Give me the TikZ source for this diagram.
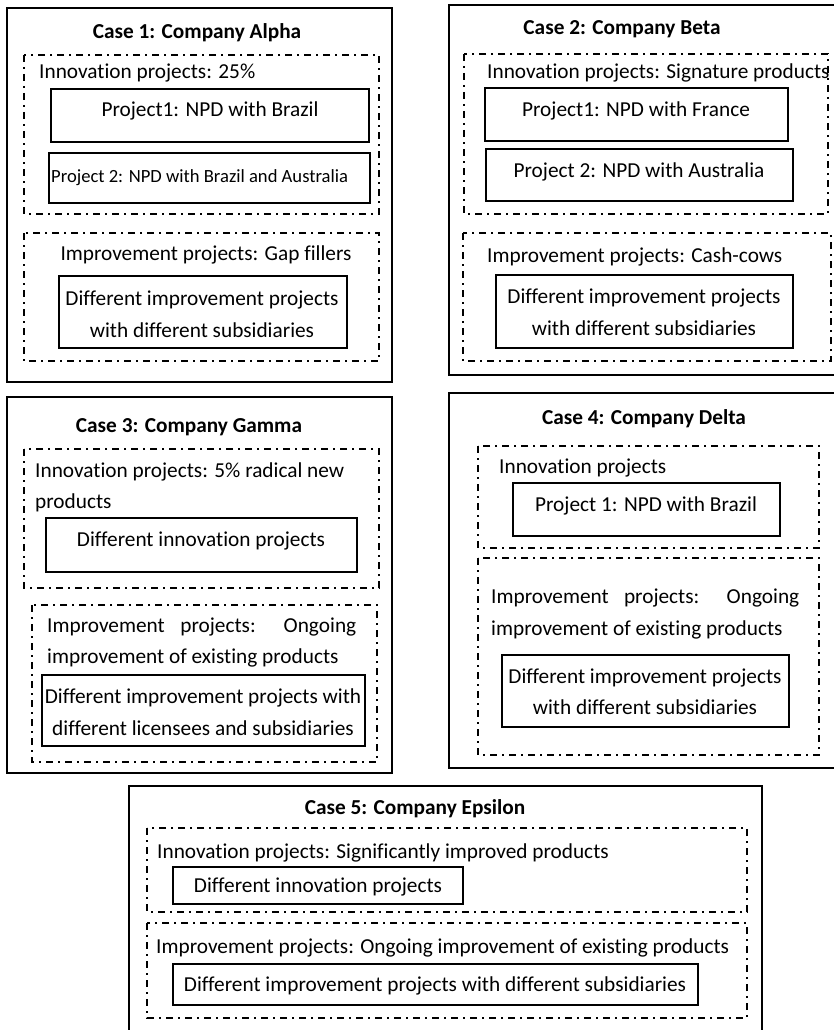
\documentclass[tikz,border=0pt]{standalone}
\usepackage{fontspec}
\setmainfont[Ligatures=NoCommon]{Carlito}
\newcommand{\bodyfont}{\fontsize{21.3}{32}\selectfont}
\newcommand{\smallbody}{\fontsize{18.6}{26}\selectfont}
\tikzset{
  outerbox/.style={draw, line width=2.7pt},
  groupbox/.style={draw, line width=2.1pt, dash pattern=on 7pt off 5pt on 2pt off 5pt},
  itembox/.style={draw, line width=2.3pt},
  lbl/.style={inner sep=0pt, font=\bodyfont, anchor=base west},
  ctr/.style={inner sep=0pt, font=\bodyfont, anchor=base},
  title/.style={inner sep=0pt, font=\bodyfont\bfseries, anchor=base}
}
\begin{document}
\begin{tikzpicture}[x=1pt, y=-1pt]
\useasboundingbox (0,0) rectangle (833,1030);

% ---- Case 1 ----
\draw[outerbox] (7,8) rectangle (392,382);
\node[title] (t1) at (197,39) {Case 1: Company Alpha};
\draw[groupbox] (24,55) rectangle (379,214);
\node[lbl] (i1) at (39,79) {Innovation projects: 25\%};
\draw[itembox] (51,89) rectangle (369,142);
\node[ctr] (p11) at (210,117) {Project1: NPD with Brazil};
\draw[itembox] (49,153) rectangle (370,203);
\node[lbl, font=\smallbody] (p12) at (51,182) {Project 2: NPD with Brazil and Australia};
\draw[groupbox] (24,233) rectangle (379,361);
\node[ctr] (m1) at (206,260) {Improvement projects: Gap fillers};
\draw[itembox] (59,276) rectangle (347,348);
\node[ctr] (d1a) at (202,305) {Different improvement projects};
\node[ctr] (d1b) at (202,337) {with different subsidiaries};

% ---- Case 2 ----
\draw[outerbox] (449,5) rectangle (840,375);
\node[title] (t2) at (622,35) {Case 2: Company Beta};
\draw[groupbox] (464,54) rectangle (828,214);
\node[lbl] (i2) at (487,79) {Innovation projects: Signature products};
\draw[itembox] (485,88) rectangle (788,141);
\node[ctr] (p21) at (636,117) {Project1: NPD with France};
\draw[itembox] (486,149) rectangle (793,201);
\node[ctr] (p22) at (639,177) {Project 2: NPD with Australia};
\draw[groupbox] (463,233) rectangle (831,361);
\node[lbl] (m2) at (487,262) {Improvement projects: Cash-cows};
\draw[itembox] (496,275) rectangle (793,348);
\node[ctr] (d2a) at (644,303) {Different improvement projects};
\node[ctr] (d2b) at (644,335) {with different subsidiaries};

% ---- Case 3 ----
\draw[outerbox] (7,397) rectangle (392,773);
\node[title] (t3) at (189,432) {Case 3: Company Gamma};
\draw[groupbox] (24,449) rectangle (379,588);
\node[lbl] (i3a) at (35,477) {Innovation projects: 5\% radical new};
\node[lbl] (i3b) at (35,508) {products};
\draw[itembox] (46,518) rectangle (357,572);
\node[ctr] (p31) at (201,546) {Different innovation projects};
\draw[groupbox] (32,605) rectangle (377,762);
\node[lbl] (m3a) at (47,632) {\makebox[309pt][s]{Improvement projects: Ongoing}};
\node[lbl] (m3b) at (47,663) {improvement of existing products};
\draw[itembox] (42,675) rectangle (365,746);
\node[ctr] (d3a) at (203,703) {Different improvement projects with};
\node[ctr] (d3b) at (203,735) {different licensees and subsidiaries};

% ---- Case 4 ----
\draw[outerbox] (449,393) rectangle (840,768);
\node[title] (t4) at (644,424) {Case 4: Company Delta};
\draw[groupbox] (478,446) rectangle (819,548);
\node[lbl] (i4) at (499,473) {Innovation projects};
\draw[itembox] (513,483) rectangle (780,536);
\node[ctr] (p41) at (646,511) {Project 1: NPD with Brazil};
\draw[groupbox] (478,558) rectangle (819,755);
\node[lbl] (m4a) at (491,603) {\makebox[308pt][s]{Improvement projects: Ongoing}};
\node[lbl] (m4b) at (491,635) {improvement of existing products};
\draw[itembox] (502,655) rectangle (789,727);
\node[ctr] (d4a) at (645,683) {Different improvement projects};
\node[ctr] (d4b) at (645,714) {with different subsidiaries};

% ---- Case 5 ----
\draw[outerbox] (129,786) rectangle (762,1040);
\node[title] (t5) at (415,814) {Case 5: Company Epsilon};
\draw[groupbox] (147,828) rectangle (747,912);
\node[lbl] (i5) at (157,858) {Innovation projects: Significantly improved products};
\draw[itembox] (173,867) rectangle (463,904);
\node[ctr] (p51) at (318,892) {Different innovation projects};
\draw[groupbox] (147,923) rectangle (747,1018);
\node[lbl] (m5) at (156,953) {Improvement projects: Ongoing improvement of existing products};
\draw[itembox] (173,964) rectangle (698,1005);
\node[ctr] (d5) at (435,991) {Different improvement projects with different subsidiaries};
\end{tikzpicture}
\end{document}
